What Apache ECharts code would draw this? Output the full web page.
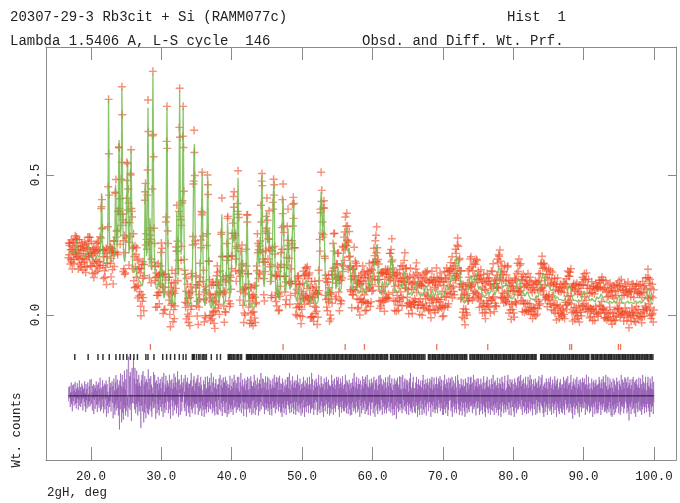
<!DOCTYPE html>
<html>
<head>
<meta charset="utf-8">
<script src="https://cdn.jsdelivr.net/npm/echarts@6.0.0/dist/echarts.min.js"></script>
<style>html,body{margin:0;padding:0;background:#fff}#chart{width:680px;height:503px}</style>
</head>
<body>
<div id="chart"></div>
<script>
// ---- data: 2theta grid, step 0.05 deg; intensities in units of 0.001 ----
const gridStep = 0.05;
const headStart = 16.8;       // head covers 16.80 .. 16.95
const firstRowDeg = 17;       // each row covers deg .00 .. .95
const tailStart = 100.0;
const calcHead = [224,224,223,223];
const calcRows = [
[222,222,221,220,220,219,219,219,220,219,218,218,219,221,225,233,245,258,268,252],
[232,224,218,216,214,213,213,214,215,214,213,212,212,213,214,213,212,212,211,211],
[211,210,210,209,209,210,211,212,214,217,222,230,240,250,256,244,228,219,212,208],
[204,203,202,201,200,199,199,199,199,198,198,197,197,198,200,203,206,210,214,217],
[220,217,214,210,207,209,214,232,265,350,435,390,320,255,215,200,192,188,186,184],
[183,182,182,183,184,186,190,220,300,520,770,600,360,270,215,202,195,192,190,188],
[186,187,188,191,195,203,215,245,290,390,465,410,330,275,240,245,260,340,440,560],
[625,500,360,300,280,340,450,640,810,640,420,310,240,215,200,194,190,200,220,270],
[330,395,450,515,545,450,330,260,220,232,260,330,420,530,590,470,330,250,190,172],
[160,155,150,147,145,146,150,162,175,163,150,142,135,131,128,126,125,123,122,118],
[115,113,112,110,108,106,104,103,102,104,110,140,200,340,470,420,330,265,210,280],
[380,580,740,560,330,235,180,240,345,270,200,170,160,250,420,660,860,690,480,340],
[230,180,150,125,110,100,95,92,90,94,100,115,130,122,110,100,95,115,150,195],
[235,205,170,130,95,80,70,64,60,68,80,105,150,260,400,590,740,540,320,210],
[140,100,75,60,50,44,40,44,50,72,100,78,55,46,40,37,35,39,45,60],
[80,130,195,290,370,270,175,150,140,240,400,610,800,610,420,300,215,245,300,370],
[430,590,740,570,380,240,145,100,70,55,45,58,80,60,45,38,32,33,35,35],
[35,37,40,46,55,66,80,108,145,215,300,410,520,590,610,480,330,210,125,88],
[60,46,38,34,32,34,38,50,70,110,155,180,200,260,330,430,510,400,260,170],
[105,72,50,40,32,33,38,68,115,220,330,430,490,380,250,160,95,62,42,34],
[28,26,24,27,32,48,70,55,40,31,25,23,22,27,35,56,85,115,140,135],
[125,92,65,53,45,50,60,82,115,180,250,320,360,280,180,115,70,50,38,34],
[32,40,50,72,105,150,200,270,330,310,260,180,115,82,60,70,85,115,150,175],
[200,230,260,300,340,375,400,365,320,270,230,195,170,180,200,260,330,420,490,400],
[280,200,135,108,90,112,145,195,240,215,175,125,80,60,45,38,32,38,48,75],
[115,180,250,315,360,290,195,125,70,48,35,29,25,26,28,35,45,38,32,28],
[25,24,24,26,28,31,35,41,50,68,95,135,180,225,260,235,200,188,180,188],
[200,222,250,310,380,450,500,400,260,185,130,112,100,115,140,180,230,280,330,355],
[370,320,270,255,250,280,310,285,240,190,150,125,110,120,140,190,260,340,420,455],
[470,390,280,190,125,92,70,72,80,102,125,110,90,70,55,58,65,92,125,162],
[200,235,270,310,350,390,420,360,280,200,135,102,80,82,90,122,165,210,250,285],
[310,270,220,165,120,100,90,98,110,135,170,225,280,325,360,390,410,350,260,185],
[125,92,70,57,48,49,52,62,75,92,105,90,70,58,48,42,38,39,42,45],
[48,56,65,76,88,97,105,113,120,114,110,118,125,121,115,106,98,105,112,103],
[92,82,70,60,52,46,42,38,36,35,36,39,42,45,48,56,65,56,48,42],
[38,35,32,34,38,47,60,85,115,170,230,290,350,400,440,425,400,350,300,318],
[340,362,380,320,245,180,125,94,70,62,58,68,80,92,100,84,68,57,48,45],
[42,44,48,58,70,90,115,155,200,235,260,248,230,188,145,115,92,100,115,138],
[160,166,170,152,130,110,90,82,75,76,80,94,110,130,150,175,200,216,230,240],
[250,254,260,275,290,302,310,308,300,270,240,228,220,232,240,218,190,160,130,114],
[100,94,90,94,100,114,130,146,160,167,170,162,150,135,120,107,95,87,80,77],
[75,72,70,72,75,80,85,92,100,106,110,108,105,97,90,92,95,90,85,80],
[75,72,70,72,75,82,90,100,110,121,130,126,120,110,100,97,95,102,110,120],
[130,140,150,160,170,180,190,200,210,226,240,250,255,242,220,190,160,132,110,96],
[85,79,75,77,80,90,100,110,120,113,105,95,85,79,75,79,85,97,110,118],
[125,118,110,102,95,96,100,114,130,145,160,175,190,204,215,210,200,176,150,128],
[110,99,90,84,80,82,85,90,95,93,90,85,80,77,75,79,85,92,100,106],
[110,108,105,100,95,97,100,109,120,132,145,154,160,152,140,125,110,99,90,85],
[80,77,75,72,70,72,75,80,85,83,80,75,70,67,65,69,75,82,90,95],
[100,105,110,116,120,118,115,108,100,92,85,80,75,72,70,72,75,78,80,75],
[70,67,65,67,70,75,80,85,90,93,95,98,100,103,105,101,95,88,80,75],
[70,67,65,62,60,62,65,72,80,88,95,93,90,82,75,70,65,67,70,77],
[85,93,100,96,90,82,75,70,65,67,70,75,80,83,85,80,75,70,65,62],
[60,62,65,70,75,80,85,90,95,100,105,108,110,106,100,95,90,92,95,102],
[110,118,125,130,135,138,140,136,130,125,120,122,125,132,140,152,165,178,190,202],
[210,207,200,195,190,183,175,168,160,146,130,112,95,82,70,62,55,52,50,47],
[45,42,40,40,40,42,45,50,55,62,70,80,90,100,110,118,125,130,135,138],
[140,136,130,122,115,110,105,107,110,117,125,132,140,146,150,149,145,133,120,110],
[100,94,90,92,95,100,105,103,100,92,85,80,75,72,70,72,75,73,70,67],
[65,62,60,62,65,72,80,88,95,93,90,82,75,72,70,75,80,87,95,103],
[110,113,115,108,100,90,80,74,70,72,75,82,90,104,120,135,150,158,165,170],
[175,173,170,161,150,138,125,115,105,100,95,97,100,105,110,108,105,102,100,104],
[110,115,120,116,110,100,90,82,75,70,65,62,60,57,55,55,55,57,60,60],
[60,62,65,67,70,75,80,87,95,102,110,115,120,122,125,128,130,128,125,120],
[115,108,100,92,85,82,80,82,85,83,80,75,70,67,65,67,70,75,80,83],
[85,83,80,75,70,67,65,62,60,57,55,55,55,57,60,57,55,52,50,50],
[50,52,55,60,65,68,70,67,65,62,60,64,70,77,85,92,100,108,115,120],
[125,130,135,140,145,148,150,146,140,130,120,112,105,102,100,97,95,97,100,102],
[105,103,100,97,95,92,90,87,85,87,90,93,95,90,85,77,70,65,60,57],
[55,55,55,57,60,65,70,67,65,60,55,52,50,50,50,52,55,57,60,57],
[55,52,50,50,50,52,55,57,60,62,65,67,70,75,80,87,95,100,105,108],
[110,108,105,97,90,82,75,70,65,60,55,52,50,50,50,52,55,52,50,47],
[45,45,45,47,50,52,55,52,50,47,45,47,50,52,55,60,65,70,75,77],
[80,82,85,87,90,88,85,80,75,72,70,67,65,62,60,57,55,52,50,50],
[50,52,55,57,60,57,55,52,50,47,45,45,45,47,50,55,60,62,65,62],
[60,57,55,55,55,57,60,65,70,75,80,78,75,70,65,60,55,52,50,47],
[45,45,45,47,50,47,45,42,40,40,40,42,45,47,50,52,55,52,50,47],
[45,42,40,40,40,42,45,47,50,47,45,42,40,42,45,50,55,60,65,67],
[70,67,65,62,60,57,55,52,50,47,45,42,40,40,40,42,45,45,45,42],
[40,40,40,42,45,47,50,47,45,42,40,37,35,37,40,42,45,47,50,47],
[45,42,40,40,40,42,45,47,50,52,55,52,50,47,45,42,40,42,45,47],
[50,47,45,42,40,40,40,42,45,47,50,52,55,57,60,62,65,68,72,76],
[80,85,90,95,100,98,95,85,75,65,55,50,45,42,40,40,40,40,40,40]
];
const calcTail = [40];

const diffHead = [-20,32,-8,25];
const diffRows = [
[35,-40,12,-22,48,-30,15,-55,38,8,-18,42,-35,20,-5,50,-28,14,-45,26],
[-25,45,-10,30,-50,20,-14,55,-35,5,32,-40,18,-26,44,-12,36,-52,22,-8],
[28,-22,52,-38,10,-58,42,-15,25,-45,16,48,-30,6,-40,34,-20,58,-36,12],
[18,60,-28,12,-52,35,-8,42,-65,22,-14,38,-46,28,-4,52,-32,18,-58,40],
[-30,15,48,-42,25,-18,65,-55,10,30,-48,22,-12,56,-38,34,-62,20,44,-26],
[-48,38,-12,55,-75,22,42,-35,15,-62,0,-24,68,-40,30,-18,46,-56,12,36],
[52,-25,35,-80,28,62,-42,18,-68,48,-30,74,-52,24,-16,58,-44,30,-70,40],
[-28,-120,55,-48,80,-20,35,-95,5,75,-60,30,-85,50,-35,90,-45,22,-70,60],
[-55,22,95,-35,-5,-75,120,140,-42,28,70,-50,85,-30,0,-90,40,100,-25,65],
[82,135,-28,62,-48,100,22,-62,42,-28,90,-40,60,-70,35,-20,75,-55,45,-35],
[35,-82,-115,55,-35,75,-55,28,88,-42,-95,40,-60,70,-30,50,-80,25,60,-45],
[48,-62,28,95,-68,22,-48,62,-35,15,70,-55,40,-75,30,-20,10,-45,85,-30],
[-42,75,-28,48,-82,35,55,-22,-62,42,-30,68,-50,20,-70,45,-15,60,-40,28],
[22,-55,68,-28,48,-75,28,82,-42,15,-60,40,-25,72,-50,30,5,55,-20,45],
[-62,35,-22,75,-48,28,-82,55,-15,42,60,-38,25,-70,46,-18,80,-52,32,-28],
[68,-35,48,-62,22,-42,88,-28,55,-75,-30,60,10,25,-68,40,-20,75,-55,30],
[-22,48,5,28,62,-42,15,-55,75,-28,40,-72,50,-18,65,-35,28,-60,45,-40],
[42,-75,22,55,-35,82,-48,28,-62,35,-20,58,-42,70,-30,18,-66,44,-28,52],
[-28,62,-42,15,75,-68,35,-22,48,-55,30,-45,68,-20,40,-72,0,-35,22,-50],
[55,-15,-75,42,-35,68,-48,22,-62,28,-40,70,-25,50,-58,32,-18,64,-45,38],
[-48,35,82,-28,15,-62,48,-42,68,-22,-55,30,-70,45,-20,60,-38,25,-65,40],
[28,-68,42,-15,62,-48,22,75,-35,-55,38,-25,58,-72,30,-40,66,-18,48,-60],
[48,-28,68,-62,35,-22,55,-75,15,42,-50,28,-65,40,-30,72,-45,20,-58,35],
[-35,62,-48,28,-68,48,-15,75,-42,22,55,-38,30,-60,45,-22,68,-50,25,-40],
[68,-42,15,-55,48,-28,82,-35,-62,35,-20,58,-45,30,-72,40,-25,62,-48,20],
[-22,55,-75,42,-28,68,-48,22,-42,62,38,-60,25,-45,70,-30,52,-68,35,-18],
[35,-62,48,-15,75,-42,28,-68,55,-28,-50,40,-22,65,-38,20,-70,45,-30,58],
[-55,42,-22,82,-48,28,5,62,-35,15,60,-40,30,-65,48,-25,70,-50,22,-45],
[48,-28,68,-55,22,-42,62,-15,-68,42,-30,55,-48,25,-70,38,-20,62,-42,30],
[-42,75,-35,28,-62,48,-22,68,-48,35,50,-30,65,-55,20,-40,72,-25,45,-60],
[22,-55,42,-75,62,-28,48,-42,15,-62,35,-20,58,-45,28,-68,40,-32,66,-18],
[68,-35,28,-48,82,-62,22,-28,55,-15,-58,40,-25,70,-42,30,-65,48,-20,55],
[-48,28,-68,55,-22,42,-55,75,-35,48,25,-60,38,-30,62,-45,20,-70,42,-25],
[28,-62,48,-15,68,-42,35,-75,22,55,-40,30,-58,45,-20,66,-35,25,-62,40],
[-35,68,-28,42,-62,22,-48,82,-42,28,60,-45,20,-68,38,-25,55,-50,30,-15],
[62,-22,48,-68,35,-55,15,75,-28,-48,40,-62,28,-35,70,-20,45,-58,32,-40],
[42,-75,28,62,-35,22,-55,48,-15,68,-30,50,-65,25,-42,58,-22,40,-70,35],
[-42,35,-62,15,75,-48,42,-28,55,-68,30,-20,62,-45,25,-58,40,-35,68,-25],
[22,55,-35,68,-48,28,-75,42,-22,62,-40,30,-60,48,-18,70,-45,25,-55,38],
[-55,42,-28,75,-42,15,-62,55,-35,48,28,-65,40,-25,58,-48,20,-70,45,-30],
[28,-68,48,-22,62,-42,35,-55,82,-28,-45,30,-62,50,-20,68,-38,25,-58,42],
[-48,62,-15,42,-75,28,55,-35,22,-62,40,-25,70,-50,30,-42,60,-18,48,-65],
[68,-28,42,-55,15,75,-48,35,-68,28,-35,58,-22,45,-70,32,-48,62,-25,40],
[-22,48,-62,28,68,-42,22,-75,55,-35,45,-28,60,-52,20,-65,38,-30,72,-45],
[42,-55,75,-28,-48,62,-15,42,-68,35,-25,58,-40,22,-62,48,-30,66,-50,28],
[-62,28,48,-42,68,-22,35,-55,15,75,-38,45,-60,30,-25,62,-48,20,-70,40],
[28,-48,62,-68,22,42,-35,55,-82,48,-20,65,-45,30,-58,40,-28,70,-52,25],
[-28,68,-42,22,-62,35,75,-48,28,-15,50,-38,62,-55,25,-30,58,-65,40,-22],
[55,-35,15,-68,48,-28,62,-42,82,-55,30,-45,22,-62,48,-20,68,-38,28,-58],
[-42,28,-62,48,-22,68,-35,42,-75,22,-50,60,-28,40,-68,35,-18,55,-45,30],
[35,-68,55,-28,75,-48,22,-62,42,-15,58,-40,25,-70,45,-30,62,-22,38,-55],
[-55,48,-22,62,-42,28,-75,55,-28,68,-35,22,-58,40,-20,65,-48,30,-62,42],
[22,-48,68,-35,42,-62,28,-15,62,-42,50,-28,70,-55,35,-25,58,-45,20,-68],
[-28,55,-68,35,-48,75,-22,42,-62,28,-40,60,-30,48,-72,25,-50,65,-18,38],
[48,-15,62,-55,28,-42,68,-75,35,-22,55,-38,22,-60,45,-28,70,-48,30,-62],
[-62,42,75,-28,55,-48,22,-68,42,-35,28,-55,62,-20,40,-70,35,-42,58,-25],
[28,-55,35,-75,62,-22,48,-42,15,-62,45,-30,68,-48,25,-58,40,-22,65,-38],
[68,-35,42,-15,-62,48,-28,75,-48,22,-40,58,-25,35,-70,50,-18,62,-45,30],
[-42,62,-22,35,-68,42,-55,28,62,-28,40,-50,25,-65,48,-30,70,-40,22,-58],
[48,-75,28,-42,55,-22,68,-48,35,-62,30,-20,58,-45,40,-68,25,-35,62,-50],
[-15,42,-55,75,-35,22,-68,48,-28,55,-42,30,-60,38,-22,65,-50,28,-70,45],
[35,-48,62,-28,42,-75,28,-55,68,-22,50,-35,25,-62,45,-30,72,-48,20,-58],
[-62,28,-35,55,-48,75,-22,42,-68,35,-25,60,-42,30,-70,48,-18,58,-40,25],
[42,-55,22,-75,62,-28,48,-42,28,-62,38,-20,65,-50,30,-45,70,-28,52,-38],
[-28,75,-48,35,-15,55,-68,42,-35,62,-40,25,-60,45,-22,68,-52,30,-65,40],
[22,-42,68,-62,28,-48,55,-22,75,-55,35,-28,60,-45,20,-70,42,-30,58,-25],
[-48,35,-28,62,-68,42,-15,48,-62,28,-38,55,-22,70,-50,30,-60,40,-25,65],
[55,-35,75,-42,22,-62,35,-75,42,-22,48,-58,28,-40,62,-30,50,-68,25,-45],
[-42,62,-28,48,-55,15,68,-48,28,-68,40,-25,58,-38,22,-62,45,-30,70,-50],
[35,-22,55,-75,42,-28,62,-42,22,-55,30,-65,48,-20,60,-45,28,-58,40,-35],
[-62,42,-35,68,-48,28,-68,55,-15,48,-30,62,-50,25,-42,70,-28,38,-60,45],
[28,-55,48,-28,75,-42,22,-62,35,-82,50,-38,62,-25,40,-68,30,-45,58,-20],
[-35,68,-48,28,-62,42,-22,55,-75,35,-28,60,-40,22,-58,48,-30,65,-45,30],
[48,-42,62,-22,35,-68,42,-28,75,-48,25,-55,40,-30,68,-38,22,-62,45,-25],
[-55,28,-35,62,-42,22,-75,48,-28,55,-40,30,-65,45,-20,58,-48,35,-62,40],
[35,-62,42,-48,68,-22,55,-35,28,-68,45,-30,60,-50,25,-40,70,-28,48,-58],
[-28,48,-55,75,-42,35,-62,22,-48,68,-35,25,-58,40,-22,62,-45,30,-70,50],
[42,-75,28,-35,62,-48,15,-68,55,-28,40,-60,30,-45,65,-25,50,-38,22,-62],
[-48,55,-22,42,-68,35,-55,75,-35,22,-40,58,-30,48,-62,28,-45,66,-20,40],
[62,-28,48,-62,28,-42,68,-55,35,-88,45,-30,58,-40,25,-65,38,-22,60,-48],
[-35,68,-42,22,-62,48,-28,55,-75,42,-25,60,-45,30,-58,40,-20,65,-50,28],
[28,-55,62,-35,42,-68,22,-48,75,-28,50,-40,25,-62,45,-30,68,-42,20,-58],
[-62,48,-28,68,-42,35,-55,28,-75,62,-30,45,-58,25,-40,70,-35,22,-65,50]
];
const diffTail = [-22];

// reflection positions (2theta, deg)
const phaseTicks = [
17.7,19.6,21.0,21.7,22.6,23.55,24.1,24.6,25.1,25.6,26.1,26.6,27.8,28.1,28.95,30.2,30.75,31.3,31.9,32.55,33.1,33.5,
34.4,34.55,34.7,35.0,35.3,35.5,35.8,36.0,36.2,36.4,37.1,37.9,38.4,
39.5,39.65,39.8,40.0,40.2,40.35,40.6,40.8,40.95,41.2,41.4,
42.1,42.25,42.4,42.55,42.7,42.85,43.05,43.2,43.4,43.55,43.75,43.9,44.1,44.25,44.4,44.6,44.8,44.95,
45.1,45.3,45.45,45.6,45.8,45.95,46.1,46.3,46.45,46.6,46.8,46.95,
47.1,47.3,47.45,47.65,47.85,48.0,48.2,48.4,48.55,48.75,48.9,49.1,49.3,49.5,49.65,49.85,
50.05,50.25,50.4,50.6,50.8,50.95,51.15,51.35,51.5,51.7,51.9,52.05,52.25,52.45,52.6,52.8,
53.0,53.2,53.35,53.55,53.75,53.9,54.1,54.3,54.5,54.65,54.85,55.0,55.2,55.4,55.6,55.75,55.95,
56.15,56.3,56.5,56.7,56.85,57.05,57.25,57.4,57.6,57.8,57.95,58.15,58.35,58.5,58.7,58.9,
59.05,59.25,59.45,59.6,59.8,60.0,60.15,60.35,60.55,60.7,60.9,61.1,61.25,61.45,61.65,61.8,
62.0,62.15,62.55,62.7,62.9,63.05,63.25,63.45,63.6,63.8,63.95,64.15,64.35,64.5,64.7,64.9,
65.05,65.25,65.4,65.6,65.8,65.95,66.15,66.35,66.5,66.7,66.9,67.05,67.25,67.45,67.95,
68.1,68.3,68.5,68.65,68.85,69.0,69.2,69.4,69.55,69.75,69.95,70.1,70.3,70.5,70.65,70.85,
71.0,71.2,71.4,71.6,71.75,71.95,72.1,72.3,72.5,72.7,72.85,73.05,73.2,73.4,73.85,
74.0,74.2,74.4,74.55,74.75,74.95,75.1,75.3,75.45,75.65,75.85,76.0,76.2,76.4,76.55,76.75,76.95,
77.1,77.3,77.5,77.65,77.85,78.0,78.2,78.4,78.6,78.75,78.95,79.1,79.3,79.5,79.65,79.85,
80.0,80.2,80.4,80.6,80.75,80.95,81.1,81.3,81.5,81.65,81.85,82.0,82.2,82.4,82.6,82.75,82.95,
83.1,83.25,83.9,84.05,84.25,84.4,84.6,84.8,84.95,85.15,85.3,85.5,85.7,85.85,
86.05,86.25,86.4,86.6,86.8,86.95,87.15,87.35,87.5,87.7,87.9,88.05,88.25,88.45,88.6,88.8,88.95,
89.15,89.35,89.5,89.7,89.9,90.05,90.25,90.45,90.6,90.75,91.1,91.3,91.45,91.65,91.85,
92.0,92.2,92.4,92.55,92.75,92.95,93.1,93.3,93.5,93.65,93.85,94.0,94.2,94.4,94.6,94.75,94.95,
95.1,95.3,95.5,95.65,95.85,96.0,96.2,96.4,96.6,96.75,96.95,97.1,97.3,97.5,97.65,97.85,
98.0,98.2,98.4,98.6,98.75,98.95,99.1,99.3,99.5,99.65,99.85
];
const siTicks = [28.44,47.30,56.12,58.86,69.13,76.38,88.03,88.30,94.95,95.25];
const xTickValues = [20,30,40,50,60,70,80,90,100];
const yTickValues = [0, 0.5];

// ---- plotting positions (not data) ----
const DIFF_ZERO = -0.289;
const PHASE_ROW = -0.150;
const SI_ROW = -0.114;
const X_MIN = 13.61, X_MAX = 103.13;
const Y_MIN = -0.518, Y_MAX = 0.957;

const obsData = [], calcData = [], diffData = [];
function addSegment(x0, cArr, dArr) {
  const m = Math.min(cArr.length, dArr.length);
  for (let j = 0; j < m; j++) {
    const x = +(x0 + j * gridStep).toFixed(2);
    const c = cArr[j] / 1000, d = dArr[j] / 1000;
    calcData.push([x, c]);
    obsData.push([x, +(c + d).toFixed(3)]);
    diffData.push([x, +(DIFF_ZERO + d).toFixed(3)]);
  }
}
addSegment(headStart, calcHead, diffHead);
for (let r = 0; r < Math.min(calcRows.length, diffRows.length); r++) {
  addSegment(firstRowDeg + r, calcRows[r], diffRows[r]);
}
addSegment(tailStart, calcTail, diffTail);
const xFirst = calcData[0][0], xLast = calcData[calcData.length - 1][0];

const mono = '"Liberation Mono","DejaVu Sans Mono",monospace';
const frame = '#8a8a8a';
const plus = 'path://M-1,-0.18L1,-0.18L1,0.18L-1,0.18Z M-0.18,-1L0.18,-1L0.18,1L-0.18,1Z';

const chart = echarts.init(document.getElementById('chart'), null, {renderer: 'canvas'});
chart.setOption({
  animation: false,
  backgroundColor: '#fff',
  grid: {left: 46, right: 4, top: 47, bottom: 43, containLabel: false},
  xAxis: [
    {type: 'value', position: 'bottom', min: X_MIN, max: X_MAX,
     axisLine: {show: true, onZero: false, lineStyle: {color: frame, width: 1}},
     axisTick: {show: true, inside: true, length: 13, customValues: xTickValues, lineStyle: {color: frame}},
     axisLabel: {show: true, customValues: xTickValues, formatter: v => v.toFixed(1),
                 fontFamily: mono, fontSize: 12.5, color: '#222', margin: 10},
     splitLine: {show: false}},
    {type: 'value', position: 'top', min: X_MIN, max: X_MAX,
     axisLine: {show: true, onZero: false, lineStyle: {color: frame, width: 1}},
     axisTick: {show: true, inside: true, length: 13, customValues: xTickValues, lineStyle: {color: frame}},
     axisLabel: {show: false}, splitLine: {show: false}}
  ],
  yAxis: [
    {type: 'value', position: 'left', min: Y_MIN, max: Y_MAX,
     axisLine: {show: true, onZero: false, lineStyle: {color: frame, width: 1}},
     axisTick: {show: true, inside: true, length: 8, customValues: yTickValues, lineStyle: {color: frame}},
     axisLabel: {show: true, customValues: yTickValues, formatter: v => v.toFixed(1), rotate: 90,
                 fontFamily: mono, fontSize: 12.5, color: '#222', margin: 4},
     splitLine: {show: false}},
    {type: 'value', position: 'right', min: Y_MIN, max: Y_MAX,
     axisLine: {show: true, onZero: false, lineStyle: {color: frame, width: 1}},
     axisTick: {show: true, inside: true, length: 8, customValues: yTickValues, lineStyle: {color: frame}},
     axisLabel: {show: false}, splitLine: {show: false}}
  ],
  series: [
    {name: 'Obs', type: 'scatter', data: obsData, symbol: plus, symbolSize: 8,
     itemStyle: {color: 'rgba(240,70,34,0.75)'}, silent: true, z: 2},
    {name: 'Calc', type: 'line', data: calcData, showSymbol: false, symbol: 'none',
     lineStyle: {color: 'rgba(115,185,75,0.85)', width: 1.3}, silent: true, z: 3},
    {name: 'Diff', type: 'line', data: diffData, showSymbol: false, symbol: 'none',
     lineStyle: {color: 'rgba(140,78,175,0.72)', width: 0.8}, silent: true, z: 3},
    {name: 'Zero', type: 'line', data: [[xFirst, DIFF_ZERO], [xLast, DIFF_ZERO]], showSymbol: false, symbol: 'none',
     lineStyle: {color: '#1a1a1a', width: 1}, silent: true, z: 4},
    {name: 'Rb3cit', type: 'scatter', data: phaseTicks.map(t => [t, PHASE_ROW]), symbol: 'rect', symbolSize: [1.5, 6],
     itemStyle: {color: '#000'}, silent: true, z: 4},
    {name: 'Si', type: 'scatter', data: siTicks.map(t => [t, SI_ROW]), symbol: 'rect', symbolSize: [1.3, 6],
     itemStyle: {color: '#e8502c'}, silent: true, z: 4}
  ],
  graphic: [
    {type: 'text', left: 10, top: 10, style: {text: '20307-29-3 Rb3cit + Si (RAMM077c)', font: '14px ' + mono, fill: '#222'}},
    {type: 'text', left: 507, top: 10, style: {text: 'Hist  1', font: '14px ' + mono, fill: '#222'}},
    {type: 'text', left: 10, top: 34, style: {text: 'Lambda 1.5406 A, L-S cycle  146', font: '14px ' + mono, fill: '#222'}},
    {type: 'text', left: 362, top: 34, style: {text: 'Obsd. and Diff. Wt. Prf.', font: '14px ' + mono, fill: '#222'}},
    {type: 'text', left: 47, top: 486, style: {text: '2gH, deg', font: '12.5px ' + mono, fill: '#222'}},
    {type: 'text', x: 17, y: 430, rotation: Math.PI / 2,
     style: {text: 'Wt. counts', font: '12.5px ' + mono, fill: '#222', align: 'center', verticalAlign: 'middle'}}
  ]
});
</script>
</body>
</html>
